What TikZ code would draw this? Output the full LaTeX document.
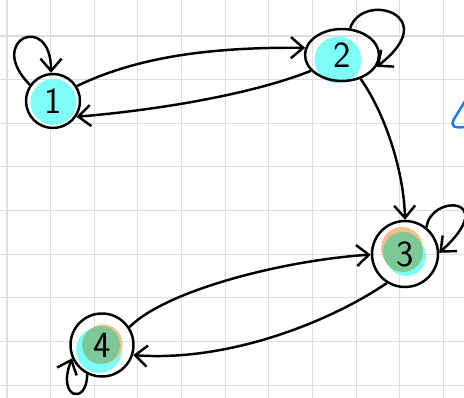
\documentclass[tikz,border=0pt]{standalone}
\usepackage{tikz}
\usetikzlibrary{shapes.geometric, arrows.meta}
\definecolor{markcyan}{RGB}{125,255,248}
\definecolor{markgreen}{RGB}{125,200,150}
\definecolor{markorange}{RGB}{245,192,140}
\definecolor{penblue}{RGB}{30,120,255}
\tikzset{
  % Grid paper
  gridline/.style={draw=black!13, line width=0.6pt},
  % State nodes
  statenode/.style={circle, draw=black, line width=1.4pt, inner sep=0pt, font=\sffamily\fontsize{21}{21}\selectfont},
  stateoval/.style={statenode, ellipse},
  % Pen strokes
  penarrow/.style={-{Straight Barb[length=7pt,width=12pt]}, line width=1.4pt, draw=black},
  penmark/.style={draw=penblue, line width=1.4pt, line cap=round},
}
\begin{document}
\begin{tikzpicture}[x=0.02cm, y=-0.02cm]
  \useasboundingbox (0,0) rectangle (464,398);
  \clip (0,0) rectangle (464,398);
  \fill[white] (0,0) rectangle (464,398);

  % Grid paper
  \foreach \k in {0,...,10} {
    \draw[gridline] (7+43.65*\k,0) -- (7+43.65*\k,398);
  }
  \foreach \k in {0,...,8} {
    \draw[gridline] (0,36+43.65*\k) -- (464,36+43.65*\k);
  }

  % Highlighter marks
  \fill[markcyan] (53.5,102) circle (0.46cm);
  \fill[markcyan] (338,60) circle (0.47cm);
  \fill[markorange] (402,248) circle (0.42cm);
  \fill[markcyan] (406,256) circle (0.40cm);
  \fill[markgreen] (403,252) circle (0.40cm);
  \fill[markcyan] (99,350) circle (0.46cm);
  \fill[markorange] (103,344) circle (0.39cm);
  \fill[markgreen] (101,345) circle (0.38cm);

  % States
  \node[statenode, minimum size=1.08cm] (n1) at (53,101) {1};
  \node[stateoval, minimum width=1.48cm, minimum height=1.04cm] (n2) at (342,55) {2};
  \node[statenode, minimum size=1.32cm] (n3) at (405,254) {3};
  \node[statenode, minimum size=1.26cm] (n4) at (102,345) {4};

  % Transitions
  \draw[penarrow] (n1.32) .. controls +(54,-26) and +(-106,-1) .. (n2.169);
  \draw[penarrow] (n2.207) .. controls +(-63,25) and +(73,-6) .. (n1.-34);
  \draw[penarrow] (n1.145) .. controls +(-45,-45) and +(0,-62) .. (n1.94);
  \draw[penarrow] (n2.73) .. controls +(12,-38) and +(68,-52) .. (n2.-19);
  \draw[penarrow] (n2.-52) .. controls +(26,37) and +(-1,-46) .. (n3.90);
  \draw[penarrow] (n3.51) .. controls +(4,-34) and +(62,-56) .. (n3.2);
  \draw[penarrow] (n4.33) .. controls +(35,-36) and +(-90,6) .. (n3.181);
  \draw[penarrow] (n3.238) .. controls +(-54,37) and +(98,7) .. (n4.-18);
  \draw[penarrow] (n4.243) .. controls +(0,32) and +(-16,40) .. (n4.204);

  % Blue stroke cut by the edge
  \draw[penmark] (467,98) -- (454,119) .. controls (450,127) and (454,128) .. (466,127);
\end{tikzpicture}
\end{document}
